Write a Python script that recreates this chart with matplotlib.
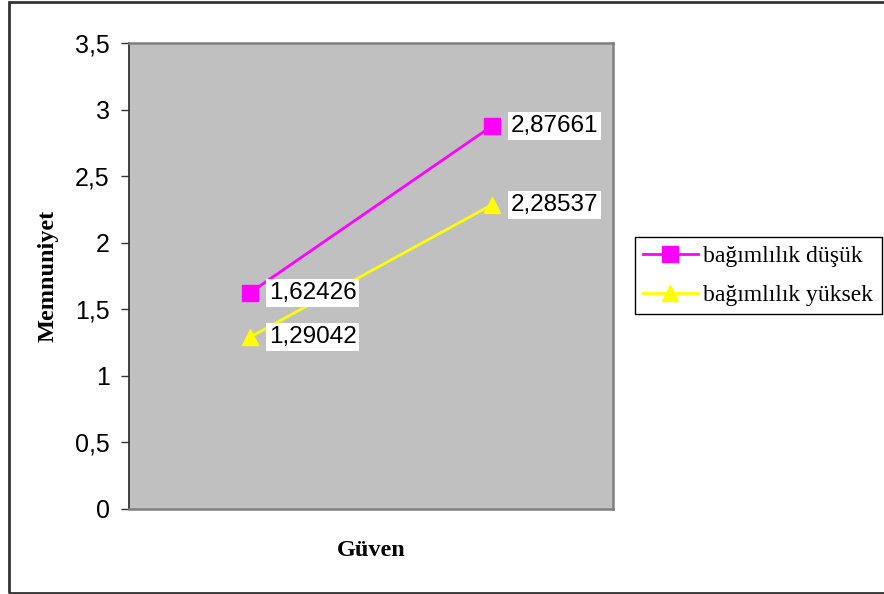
import matplotlib.pyplot as plt
from matplotlib.patches import Rectangle

# Memnuniyet scores by Güven level, split by bağımlılık group
categories = [1, 2]
dusuk = [1.62426, 2.87661]
yuksek = [1.29042, 2.28537]
series_names = ["bağımlılık düşük", "bağımlılık yüksek"]
yticks = [0, 0.5, 1, 1.5, 2, 2.5, 3, 3.5]
ytick_labels = ["0", "0,5", "1", "1,5", "2", "2,5", "3", "3,5"]

W, H = 884, 594
fig = plt.figure(figsize=(W / 100, H / 100), dpi=100)
ax = fig.add_axes([129 / W, 1 - 509 / H, (613 - 129) / W, (509 - 43) / H])
ax.set_facecolor("#C0C0C0")

ax.plot(categories, dusuk, color="#FF00FF", lw=2, marker="s", ms=11,
        label=series_names[0], zorder=3)
ax.plot(categories, yuksek, color="#FFFF00", lw=2, marker="^", ms=12,
        label=series_names[1], zorder=3)

# value labels in white boxes to the right of each point
for vals in (dusuk, yuksek):
    for x, v in zip(categories, vals):
        ax.annotate(f"{v}".replace(".", ","), (x, v), xytext=(13.5, 0),
                    textcoords="offset points", ha="left", va="center",
                    fontsize=17.5, family="Liberation Sans", zorder=4,
                    bbox=dict(boxstyle="square,pad=0.12", fc="white", ec="none"))

ax.set_xlim(0.5, 2.5)
ax.set_ylim(0, 3.5)
ax.set_xticks([])
ax.set_yticks(yticks)
ax.set_yticklabels(ytick_labels, fontsize=18, family="Liberation Sans")
ax.tick_params(axis="y", length=6, width=1, color="#333333", pad=8)

for side in ("top", "right", "bottom"):
    ax.spines[side].set_color("#808080")
    ax.spines[side].set_linewidth(1.8)
ax.spines["left"].set_color("#333333")
ax.spines["left"].set_linewidth(1.3)

ax.set_ylabel("Memnuniyet", fontsize=17.5, family="Liberation Serif",
              fontweight="bold", va="center")
ax.yaxis.set_label_coords((48 - 129) / 484, 0.5)
ax.set_xlabel("Güven", fontsize=17.5, family="Liberation Serif",
              fontweight="bold", va="center")
ax.xaxis.set_label_coords(0.5, -41 / 466)

leg = fig.legend(loc="upper left", bbox_to_anchor=(635 / W, 1 - 237 / H),
                 borderaxespad=0, prop={"family": "Liberation Serif", "size": 17},
                 handlelength=2.3, handletextpad=0.25, labelspacing=0.75,
                 borderpad=0.35, fancybox=False, framealpha=1, edgecolor="black")
leg.get_frame().set_linewidth(1.0)

# outer chart frame (right edge runs off the canvas)
fig.patches.append(Rectangle((8.5 / W, 1.5 / H), 1.0, (H - 3.5) / H,
                             transform=fig.transFigure, fill=False,
                             ec="#333333", lw=2, clip_on=False))

fig.savefig("out.png", dpi=100)
